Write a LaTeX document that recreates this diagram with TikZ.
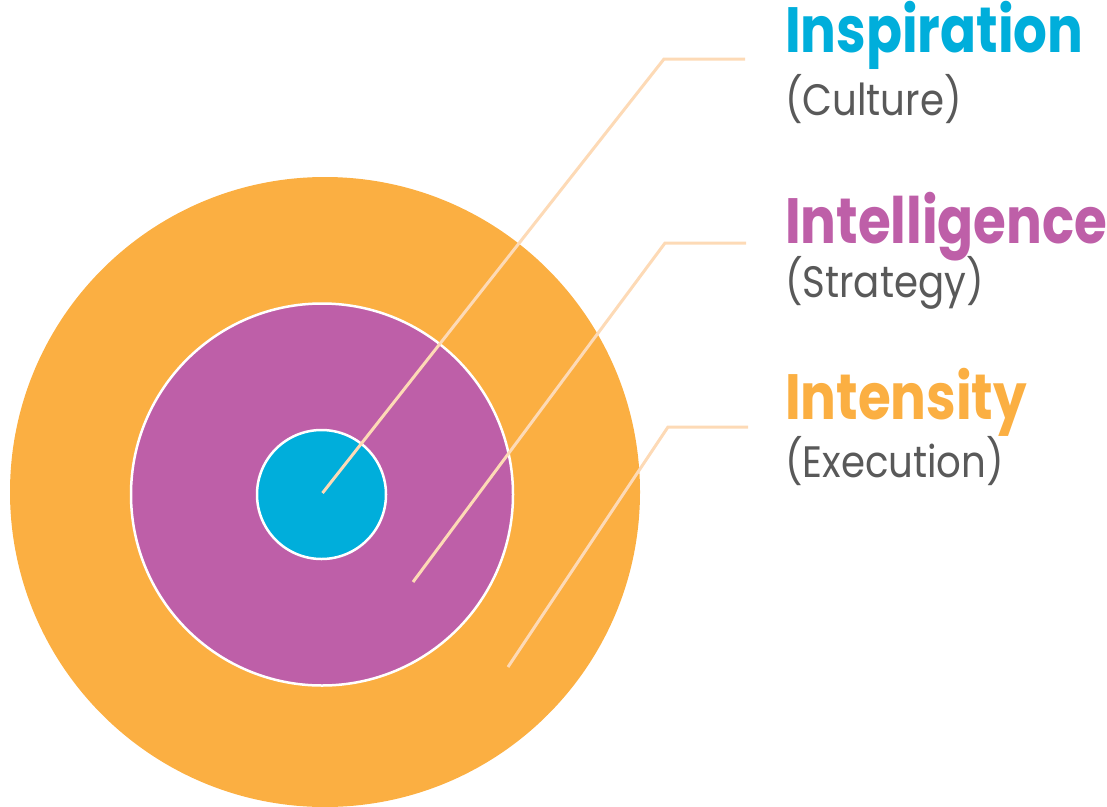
\documentclass[tikz,border=0pt]{standalone}
\usepackage{fontspec}
\setmainfont{Poppins}
\usetikzlibrary{calc, positioning}
\usepackage{xcolor}

\definecolor{cyanring}{RGB}{0,174,219}
\definecolor{purplering}{RGB}{190,95,168}
\definecolor{orangering}{RGB}{251,175,66}
\definecolor{peachline}{RGB}{253,218,182}
\definecolor{subgray}{RGB}{89,89,89}

\begin{document}
\begin{tikzpicture}[x = 1pt, y = -1pt, inner sep = 0pt, outer sep = 0pt]
			\tikzstyle{ring} = [circle, draw=white, line width = 2.5pt]
			\tikzstyle{lead} = [draw=peachline, line width = 3pt]
			\tikzstyle{title} = [anchor = base west, xscale = 0.83, font = \bfseries\fontsize{64}{64}\selectfont]
			\tikzstyle{sub} = [anchor = base west, xscale = 0.88, text = subgray, font = \fontsize{44}{44}\selectfont]
			
			\useasboundingbox (0, 0) rectangle (1107, 806);
			
			% the three rings, outermost first
			\node[ring, fill=orangering, draw=none, minimum size = 630pt]	at (325, 492)	(outer)	{};
			\node[ring, fill=purplering, minimum size = 382pt]				at (322, 494.5)	(middle)	{};
			\node[ring, fill=cyanring, minimum size = 129pt]				at (321.5, 494.5)	(inner)	{};
			
			% labels
			\node[title, text = cyanring]	at (785, 52)	(insp)	{Inspiration};
			\node[sub]						at (785, 115)	(cult)	{(Culture)};
			\node[title, text = purplering]	at (785, 243)	(intel)	{Intelligence};
			\node[sub]						at (785, 297)	(strat)	{(Strategy)};
			\node[title, text = orangering]	at (785, 419)	(intens)	{Intensity};
			\node[sub]						at (785, 477)	(exec)	{(Execution)};
			
			% leader lines
			\coordinate (p1) at (322.5, 493);
			\coordinate (k1) at (664, 59);
			\coordinate (e1) at (745, 59);
			\coordinate (p2) at (413, 582);
			\coordinate (k2) at (665, 243);
			\coordinate (e2) at (746, 243);
			\coordinate (p3) at (508, 667);
			\coordinate (k3) at (668, 427);
			\coordinate (e3) at (748, 427);
			
			\draw[lead]	(p1) -- (k1) -- (e1);
			\draw[lead]	(p2) -- (k2) -- (e2);
			\draw[lead]	(p3) -- (k3) -- (e3);
		\end{tikzpicture}
\end{document}
